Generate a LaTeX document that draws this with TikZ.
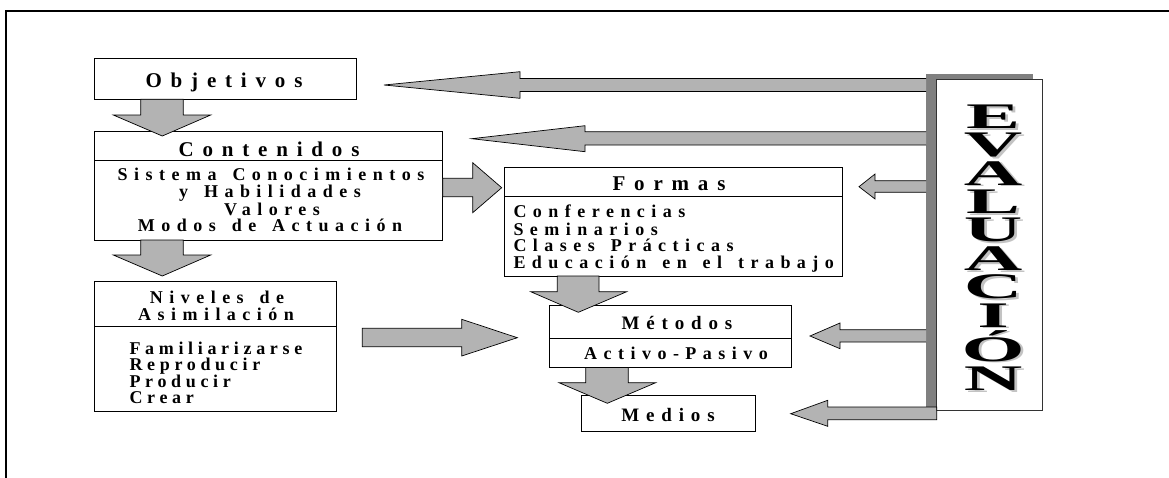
\documentclass[tikz,border=0pt]{standalone}
\usepackage{fontspec}
\usepackage{graphicx}
\setmainfont{Liberation Serif}
\newfontfamily\tfont{Liberation Serif}[LetterSpace=42]
\newfontfamily\bfont{Liberation Serif}[LetterSpace=36,WordSpace=1.45]
\newfontfamily\lfont{Liberation Serif}[LetterSpace=26,WordSpace=1.45]
\usetikzlibrary{calc}
\definecolor{arrowgray}{RGB}{179,179,179}
\definecolor{darkstrip}{RGB}{128,128,128}
\definecolor{shadegray}{RGB}{195,195,195}
\newcommand\evletter[1]{\scalebox{2.25}[1]{\makebox[0pt][l]{\kern1.3pt\raisebox{-1.8pt}{\textcolor{shadegray}{#1}}}#1}}
\begin{document}
\begin{tikzpicture}[x=1pt,y=-1pt,
  box/.style={draw=black, line width=0.9pt, fill=white, anchor=north west, inner sep=0pt, outer sep=0pt},
  sepline/.style={draw=black, line width=0.9pt},
  blockarrow/.style={draw=black, line width=0.7pt, fill=arrowgray, line join=miter},
  ttl/.style={font=\tfont\bfseries\fontsize{21}{21}\selectfont, inner sep=0pt, anchor=base},
  txt/.style={font=\bfont\bfseries\fontsize{18}{18}\selectfont, inner sep=0pt, anchor=base},
  txtf/.style={txt, anchor=base west},
  txtl/.style={font=\lfont\bfseries\fontsize{18}{18}\selectfont, inner sep=0pt, anchor=base west},
  mtxt/.style={font=\bfont\bfseries\fontsize{19}{19}\selectfont, inner sep=0pt, anchor=base},
  evl/.style={font=\bfseries\fontsize{36}{36}\selectfont, inner sep=0pt, anchor=base},
]
\useasboundingbox (0,0) rectangle (1169,477);
% outer frame (only top and left visible)
\draw[line width=2pt] (6,478) -- (6,10.7) -- (1170,10.7);

% boxes
\node[box, minimum width=261.7pt, minimum height=41pt] (obj) at (94.3,58.3) {};
\node[box, minimum width=348.4pt, minimum height=109pt] (cont) at (94.3,131) {};
\node[box, minimum width=242.4pt, minimum height=129.3pt] (niv) at (94.3,281.7) {};
\node[box, minimum width=338.5pt, minimum height=108.7pt] (form) at (504,167.3) {};
\node[box, minimum width=241.7pt, minimum height=61.8pt] (met) at (549.3,305.7) {};
\node[box, minimum width=174.7pt, minimum height=36pt] (med) at (581,395.7) {};

% separators
\draw[sepline] ([yshift=-29pt]cont.north west) -- ([yshift=-29pt]cont.north east);
\draw[sepline] ([yshift=-45pt]niv.north west) -- ([yshift=-45pt]niv.north east);
\draw[sepline] ([yshift=-29.4pt]form.north west) -- ([yshift=-29.4pt]form.north east);
\draw[sepline] ([yshift=-32.6pt]met.north west) -- ([yshift=-32.6pt]met.north east);

% texts
\node[ttl] (tobj) at (224,87.3) {Objetivos};
\node[ttl] (tcont) at (269,156.7) {Contenidos};
\node[txt] (tc1) at (271,180) {Sistema Conocimientos};
\node[txt] (tc2) at (270,197.5) {y Habilidades};
\node[txt] (tc3) at (272,215) {Valores};
\node[txt] (tc4) at (270,231) {Modos de Actuación};
\node[txt] (tn1) at (217,303.3) {Niveles de};
\node[txt] (tn2) at (216,320) {Asimilación};
\node[txtl] (tn3) at (129.3,354) {Familiarizarse};
\node[txtl] (tn4) at (129.3,370.5) {Reproducir};
\node[txtl] (tn5) at (129.3,387) {Producir};
\node[txtl] (tn6) at (129.3,403.5) {Crear};
\node[ttl] (tform) at (669,190.7) {Formas};
\node[txtf] (tf1) at (513.3,217.3) {Conferencias};
\node[txtf] (tf2) at (513.3,235) {Seminarios};
\node[txtf] (tf3) at (513.3,251.7) {Clases Prácticas};
\node[txtf] (tf4) at (513.3,268.3) {Educación en el trabajo};
\node[mtxt] (tmet) at (677,329.3) {Métodos};
\node[txt] (tact) at (676,359) {Activo-Pasivo};
\node[mtxt] (tmed) at (668,421) {Medios};

% evaluation box with dark shadow
\fill[darkstrip] (926,74) rectangle (1032.7,407);
\node[box, draw=black!80, line width=0.8pt, minimum width=106pt, minimum height=331.3pt] (eval) at (936.7,79) {};
\foreach \l/\y [count=\i] in {E/128.3, V/156.7, A/185, L/213.3, U/241.7, A/270.3, C/298.7, I/327, Ó/361, N/390.3}{
  \node[evl] (evl\i) at (993,\y) {\evletter{\l}};
}

% block arrows down
\draw[blockarrow] (140.7,99.3) -- (140.7,115) -- (113.3,115) -- (162.3,136) -- (210.7,115) -- (183.3,115) -- (183.3,99.3) -- cycle;
\draw[blockarrow] (140.7,240) -- (140.7,255) -- (113.3,255) -- (162.3,276) -- (210.7,255) -- (183.3,255) -- (183.3,240) -- cycle;
\draw[blockarrow] (557.3,276) -- (557.3,291.7) -- (530.7,291.7) -- (578.3,312.3) -- (626.7,291.7) -- (599,291.7) -- (599,276) -- cycle;
\draw[blockarrow] (585.7,367.5) -- (585.7,382.7) -- (559,382.7) -- (607.3,403.3) -- (655.7,382.7) -- (628.3,382.7) -- (628.3,367.5) -- cycle;
% block arrows right
\draw[blockarrow] (442.7,178.3) -- (472.7,178.3) -- (472.7,162.7) -- (501.7,187.7) -- (472.7,212.7) -- (472.7,196.7) -- (442.7,196.7) -- cycle;
\draw[blockarrow] (362.3,328.3) -- (461.7,328.3) -- (461.7,319.3) -- (517.3,337.7) -- (461.7,356) -- (461.7,346.7) -- (362.3,346.7) -- cycle;
% block arrows left from evaluation
\draw[blockarrow] (926,78.5) -- (520,78.5) -- (520,71.7) -- (384,85) -- (520,98.3) -- (520,91.5) -- (926,91.5);
\draw[blockarrow] (926,131.7) -- (585,131.7) -- (585,125.7) -- (471.7,138.7) -- (585,151.7) -- (585,145) -- (926,145);
\draw[blockarrow] (926,180.7) -- (875,180.7) -- (875,174) -- (859,186.7) -- (875,199) -- (875,192.3) -- (926,192.3);
\draw[blockarrow] (926,329.7) -- (840,329.7) -- (840,323) -- (810,336) -- (840,348.7) -- (840,342) -- (926,342);
\draw[blockarrow] (936.7,407) -- (827.7,407) -- (827.7,400.3) -- (790.7,413.7) -- (827.7,426.3) -- (827.7,419.7) -- (936.7,419.7) -- cycle;
\end{tikzpicture}
\end{document}
